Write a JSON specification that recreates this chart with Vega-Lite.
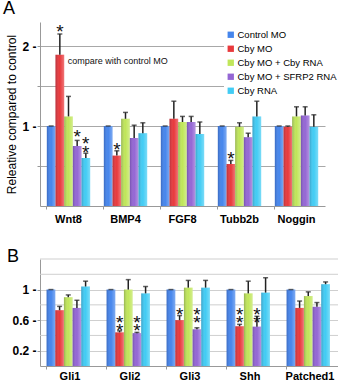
{
  "$schema": "https://vega.github.io/schema/vega-lite/v6.json",
  "padding": {"left": 2, "top": 0, "right": 0, "bottom": 0},
  "spacing": 23,
  "config": {
    "view": {"stroke": null},
    "font": "Liberation Sans",
    "axis": {"labelFont": "Liberation Sans", "titleFont": "Liberation Sans", "domainColor": "#999999", "tickColor": "#999999"},
    "title": {"font": "Liberation Sans", "fontWeight": "normal", "color": "#000000"}
  },
  "resolve": {"legend": {"color": "independent"}},
  "vconcat": [
    {
      "width": 285,
      "height": 184,
      "title": {"text": "A", "anchor": "start", "frame": "bounds", "fontSize": 18, "offset": 4, "dx": -3},
      "data": {"values": [
        {"gene": "Wnt8", "series": "Control MO", "value": 1.0, "err": 1.0},
        {"gene": "Wnt8", "series": "Cby MO", "value": 1.89, "err": 2.15},
        {"gene": "Wnt8", "series": "Cby MO + Cby RNA", "value": 1.12, "err": 1.37},
        {"gene": "Wnt8", "series": "Cby MO + SFRP2 RNA", "value": 0.75, "err": 0.82},
        {"gene": "Wnt8", "series": "Cby RNA", "value": 0.6, "err": 0.66},
        {"gene": "BMP4", "series": "Control MO", "value": 1.0, "err": 1.0},
        {"gene": "BMP4", "series": "Cby MO", "value": 0.63, "err": 0.69},
        {"gene": "BMP4", "series": "Cby MO + Cby RNA", "value": 1.09, "err": 1.17},
        {"gene": "BMP4", "series": "Cby MO + SFRP2 RNA", "value": 0.85, "err": 1.01},
        {"gene": "BMP4", "series": "Cby RNA", "value": 0.91, "err": 1.04},
        {"gene": "FGF8", "series": "Control MO", "value": 1.0, "err": 1.0},
        {"gene": "FGF8", "series": "Cby MO", "value": 1.09, "err": 1.31},
        {"gene": "FGF8", "series": "Cby MO + Cby RNA", "value": 1.05, "err": 1.12},
        {"gene": "FGF8", "series": "Cby MO + SFRP2 RNA", "value": 1.05, "err": 1.12},
        {"gene": "FGF8", "series": "Cby RNA", "value": 0.9, "err": 1.05},
        {"gene": "Tubb2b", "series": "Control MO", "value": 1.0, "err": 1.0},
        {"gene": "Tubb2b", "series": "Cby MO", "value": 0.525, "err": 0.57},
        {"gene": "Tubb2b", "series": "Cby MO + Cby RNA", "value": 0.99, "err": 1.04},
        {"gene": "Tubb2b", "series": "Cby MO + SFRP2 RNA", "value": 0.86, "err": 0.91},
        {"gene": "Tubb2b", "series": "Cby RNA", "value": 1.12, "err": 1.31},
        {"gene": "Noggin", "series": "Control MO", "value": 1.0, "err": 1.0},
        {"gene": "Noggin", "series": "Cby MO", "value": 0.99, "err": 1.0},
        {"gene": "Noggin", "series": "Cby MO + Cby RNA", "value": 1.12, "err": 1.24},
        {"gene": "Noggin", "series": "Cby MO + SFRP2 RNA", "value": 1.13, "err": 1.24},
        {"gene": "Noggin", "series": "Cby RNA", "value": 0.99, "err": 1.14}
      ]},
      "encoding": {
        "x": {"field": "gene", "type": "nominal", "sort": null,
              "scale": {"domain": ["Wnt8", "BMP4", "FGF8", "Tubb2b", "Noggin"], "paddingInner": 0.24, "paddingOuter": 0.12},
              "axis": {"title": null, "labelAngle": 0, "labelFontWeight": "bold", "labelFontSize": 11, "labelColor": "#000000", "bandPosition": 0, "tickSize": 3, "labelPadding": 4, "domainColor": "#999999"}},
        "xOffset": {"field": "series", "type": "nominal",
              "scale": {"domain": ["Control MO", "Cby MO", "Cby MO + Cby RNA", "Cby MO + SFRP2 RNA", "Cby RNA"], "paddingInner": 0, "paddingOuter": 0}}
      },
      "layer": [
        {
          "mark": {"type": "bar"},
          "encoding": {
            "y": {"field": "value", "type": "quantitative",
                  "scale": {"domain": [0, 2.3], "nice": false},
                  "axis": {"title": "Releative compared to control", "titleFontSize": 12, "titleFontWeight": "normal", "titlePadding": 3,
                           "values": [0.5, 1, 1.5, 2], "grid": true, "gridColor": "#a8a8a8", "format": "~g", "labelOverlap": false,
                           "labelExpr": "abs(datum.value - 1) < 0.01 || abs(datum.value - 2) < 0.01 ? datum.label + ' -' : ''",
                           "labelFontWeight": "bold", "labelFontSize": 12, "labelColor": "#000000", "tickSize": 3, "labelPadding": 1}},
            "color": {"field": "series", "type": "nominal",
                      "scale": {"domain": ["Control MO", "Cby MO", "Cby MO + Cby RNA", "Cby MO + SFRP2 RNA", "Cby RNA"],
                                "range": ["#4585ec", "#e8393c", "#c0e65a", "#9466d4", "#42ccf4"]},
                      "legend": {"orient": "none", "legendX": 184, "legendY": 6, "title": null, "symbolType": "square", "symbolSize": 40,
                                 "labelFontSize": 9.5, "labelFont": "Liberation Sans", "rowPadding": 3, "fillColor": "#ffffff", "padding": 2, "symbolStrokeWidth": 0, "labelOffset": 2, "labelLimit": 200}}
          }
        },
        {
          "mark": {"type": "bar", "color": {"gradient": "linear", "x1": 0, "y1": 0, "x2": 1, "y2": 0, "stops": [{"offset": 0, "color": "rgba(0,0,40,0.22)"}, {"offset": 0.5, "color": "rgba(255,255,255,0)"}, {"offset": 1, "color": "rgba(255,255,255,0.3)"}]}},
          "encoding": {"y": {"field": "value", "type": "quantitative"}}
        },
        {
          "mark": {"type": "rule", "color": "#222222", "strokeWidth": 1.5},
          "encoding": {"y": {"field": "value", "type": "quantitative"}, "y2": {"field": "err"}}
        },
        {
          "mark": {"type": "tick", "color": "#222222", "thickness": 1.5, "size": 5},
          "encoding": {"y": {"field": "err", "type": "quantitative"}}
        },
        {
          "data": {"values": [
            {"gene": "Wnt8", "series": "Cby MO", "sy": 2.25, "star": "*"},
            {"gene": "Wnt8", "series": "Cby MO + SFRP2 RNA", "sy": 0.93, "star": "*"},
            {"gene": "Wnt8", "series": "Cby RNA", "sy": 0.84, "star": "*\n*"},
            {"gene": "BMP4", "series": "Cby MO", "sy": 0.775, "star": "*"},
            {"gene": "Tubb2b", "series": "Cby MO", "sy": 0.66, "star": "*"}
          ]},
          "mark": {"type": "text", "fontSize": 19, "baseline": "middle", "lineBreak": "\n", "lineHeight": 9, "dy": 5.5, "color": "#111111"},
          "encoding": {"y": {"field": "sy", "type": "quantitative"}, "text": {"field": "star"}}
        },
        {
          "data": {"values": [{"gene": "BMP4", "ty": 1.81, "label": "compare with control MO"}]},
          "mark": {"type": "text", "fontSize": 9, "baseline": "middle", "dx": 14, "color": "#111111"},
          "encoding": {"x": {"field": "gene", "type": "nominal"}, "xOffset": {"value": 0}, "y": {"field": "ty", "type": "quantitative"}, "text": {"field": "label"}}
        }
      ]
    },
    {
      "width": 300,
      "height": 107,
      "title": {"text": "B", "anchor": "start", "frame": "bounds", "fontSize": 18, "offset": -7, "dx": -5},
      "data": {"values": [
        {"gene": "Gli1", "series": "Control MO", "value": 1.0, "err": 1.0},
        {"gene": "Gli1", "series": "Cby MO", "value": 0.73, "err": 0.78},
        {"gene": "Gli1", "series": "Cby MO + Cby RNA", "value": 0.9, "err": 0.93},
        {"gene": "Gli1", "series": "Cby MO + SFRP2 RNA", "value": 0.76, "err": 0.86},
        {"gene": "Gli1", "series": "Cby RNA", "value": 1.04, "err": 1.11},
        {"gene": "Gli2", "series": "Control MO", "value": 1.0, "err": 1.0},
        {"gene": "Gli2", "series": "Cby MO", "value": 0.44, "err": 0.46},
        {"gene": "Gli2", "series": "Cby MO + Cby RNA", "value": 1.0, "err": 1.13},
        {"gene": "Gli2", "series": "Cby MO + SFRP2 RNA", "value": 0.43, "err": 0.44},
        {"gene": "Gli2", "series": "Cby RNA", "value": 0.95, "err": 1.04},
        {"gene": "Gli3", "series": "Control MO", "value": 1.0, "err": 1.0},
        {"gene": "Gli3", "series": "Cby MO", "value": 0.6, "err": 0.66},
        {"gene": "Gli3", "series": "Cby MO + Cby RNA", "value": 1.025, "err": 1.12},
        {"gene": "Gli3", "series": "Cby MO + SFRP2 RNA", "value": 0.48, "err": 0.5},
        {"gene": "Gli3", "series": "Cby RNA", "value": 1.025, "err": 1.12},
        {"gene": "Shh", "series": "Control MO", "value": 1.0, "err": 1.0},
        {"gene": "Shh", "series": "Cby MO", "value": 0.52, "err": 0.545},
        {"gene": "Shh", "series": "Cby MO + Cby RNA", "value": 0.95, "err": 1.11},
        {"gene": "Shh", "series": "Cby MO + SFRP2 RNA", "value": 0.515, "err": 0.65},
        {"gene": "Shh", "series": "Cby RNA", "value": 0.96, "err": 1.155},
        {"gene": "Patched1", "series": "Control MO", "value": 1.0, "err": 1.0},
        {"gene": "Patched1", "series": "Cby MO", "value": 0.76, "err": 0.85},
        {"gene": "Patched1", "series": "Cby MO + Cby RNA", "value": 0.915, "err": 0.97},
        {"gene": "Patched1", "series": "Cby MO + SFRP2 RNA", "value": 0.775, "err": 0.83},
        {"gene": "Patched1", "series": "Cby RNA", "value": 1.07, "err": 1.1}
      ]},
      "encoding": {
        "x": {"field": "gene", "type": "nominal", "sort": null,
              "scale": {"domain": ["Gli1", "Gli2", "Gli3", "Shh", "Patched1"], "paddingInner": 0.22, "paddingOuter": 0.11},
              "axis": {"title": null, "labelAngle": 0, "labelFontWeight": "bold", "labelFontSize": 11, "labelColor": "#000000", "bandPosition": 0, "tickSize": 3, "labelPadding": 1, "domainColor": "#999999"}},
        "xOffset": {"field": "series", "type": "nominal",
              "scale": {"domain": ["Control MO", "Cby MO", "Cby MO + Cby RNA", "Cby MO + SFRP2 RNA", "Cby RNA"], "paddingInner": 0, "paddingOuter": 0}}
      },
      "layer": [
        {
          "data": {"values": [{"g": 0.4}, {"g": 0.8}, {"g": 1.2}, {"g": 1.4}]},
          "mark": {"type": "rule", "color": "#cfcfcf", "strokeWidth": 1},
          "encoding": {"x": {"value": 0}, "x2": {"value": 300}, "xOffset": null, "y": {"field": "g", "type": "quantitative", "scale": {"domain": [0, 1.4], "nice": false}}}
        },
        {
          "mark": {"type": "bar"},
          "encoding": {
            "y": {"field": "value", "type": "quantitative",
                  "scale": {"domain": [0, 1.4], "nice": false},
                  "axis": {"title": null, "values": [0.2, 0.6, 1], "grid": true, "gridColor": "#cfcfcf", "format": "~g",
                           "labelExpr": "datum.label + ' -'",
                           "labelFontWeight": "bold", "labelFontSize": 12, "labelColor": "#000000", "tickSize": 3, "labelPadding": 1}},
            "color": {"field": "series", "type": "nominal",
                      "scale": {"domain": ["Control MO", "Cby MO", "Cby MO + Cby RNA", "Cby MO + SFRP2 RNA", "Cby RNA"],
                                "range": ["#4585ec", "#e8393c", "#c0e65a", "#9466d4", "#42ccf4"]},
                      "legend": null}
          }
        },
        {
          "mark": {"type": "bar", "color": {"gradient": "linear", "x1": 0, "y1": 0, "x2": 1, "y2": 0, "stops": [{"offset": 0, "color": "rgba(0,0,40,0.22)"}, {"offset": 0.5, "color": "rgba(255,255,255,0)"}, {"offset": 1, "color": "rgba(255,255,255,0.3)"}]}},
          "encoding": {"y": {"field": "value", "type": "quantitative"}}
        },
        {
          "mark": {"type": "rule", "color": "#222222", "strokeWidth": 1.5},
          "encoding": {"y": {"field": "value", "type": "quantitative"}, "y2": {"field": "err"}}
        },
        {
          "mark": {"type": "tick", "color": "#222222", "thickness": 1.5, "size": 5},
          "encoding": {"y": {"field": "err", "type": "quantitative"}}
        },
        {
          "data": {"values": [
            {"gene": "Gli2", "series": "Cby MO", "sy": 0.64, "star": "*\n*"},
            {"gene": "Gli2", "series": "Cby MO + SFRP2 RNA", "sy": 0.64, "star": "*\n*"},
            {"gene": "Gli3", "series": "Cby MO", "sy": 0.745, "star": "*"},
            {"gene": "Gli3", "series": "Cby MO + SFRP2 RNA", "sy": 0.745, "star": "*\n*"},
            {"gene": "Shh", "series": "Cby MO", "sy": 0.745, "star": "*\n*"},
            {"gene": "Shh", "series": "Cby MO + SFRP2 RNA", "sy": 0.745, "star": "*\n*"}
          ]},
          "mark": {"type": "text", "fontSize": 19, "baseline": "middle", "lineBreak": "\n", "lineHeight": 8.5, "dy": 5.5, "color": "#111111"},
          "encoding": {"y": {"field": "sy", "type": "quantitative"}, "text": {"field": "star"}}
        }
      ]
    }
  ]
}
